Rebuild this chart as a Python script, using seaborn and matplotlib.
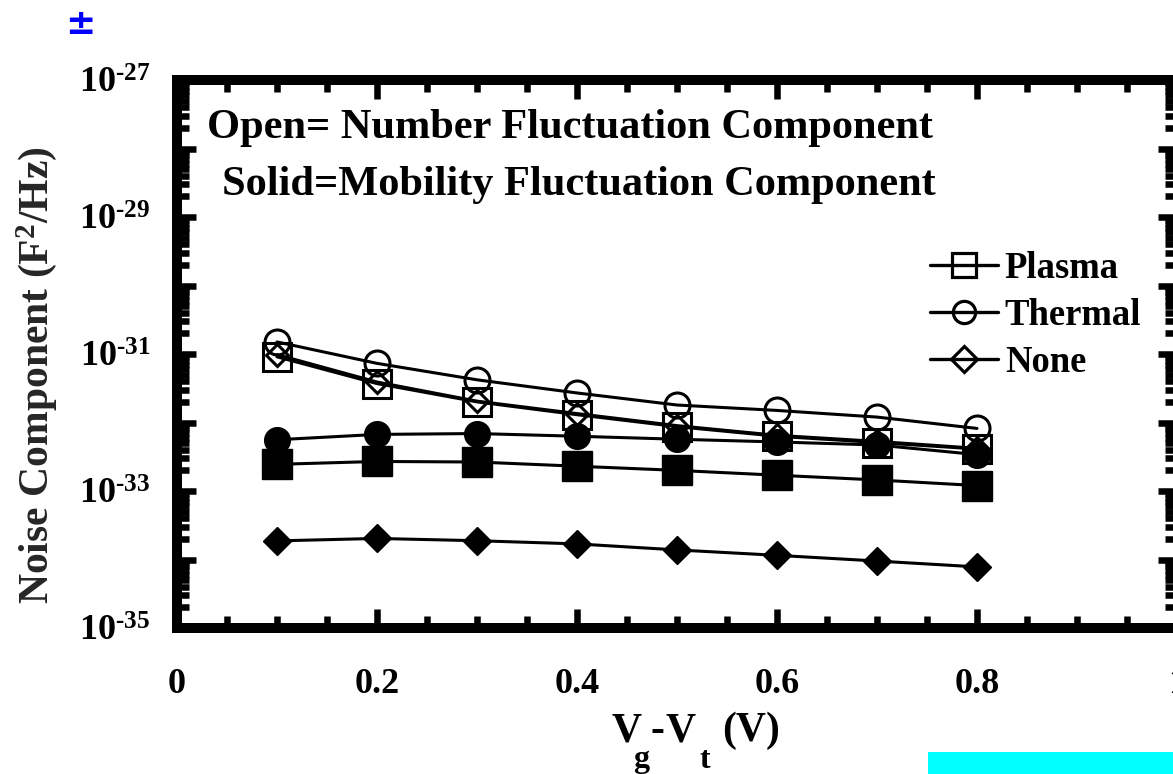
import numpy as np
import pandas as pd
import matplotlib
matplotlib.use("Agg")
import matplotlib.pyplot as plt
import seaborn as sns
from matplotlib.lines import Line2D
from matplotlib.patches import Rectangle
from matplotlib.ticker import FixedLocator, FuncFormatter, LogLocator, MultipleLocator

# Gate overdrive (V)
vg = [0.1, 0.2, 0.3, 0.4, 0.5, 0.6, 0.7, 0.8]

# Number-fluctuation component (open markers), F^2/Hz
plasma_number = [9.1e-32, 3.7e-32, 2.0e-32, 1.3e-32, 8.7e-33, 6.3e-33, 5.1e-33, 4.1e-33]
thermal_number = [1.5e-31, 7.3e-32, 4.2e-32, 2.7e-32, 1.8e-32, 1.5e-32, 1.2e-32, 8.2e-33]
none_number = [9.8e-32, 3.9e-32, 2.05e-32, 1.35e-32, 9.0e-33, 6.5e-33, 5.3e-33, 4.2e-33]

# Mobility-fluctuation component (solid markers), F^2/Hz
plasma_mobility = [2.45e-33, 2.7e-33, 2.65e-33, 2.3e-33, 2.0e-33, 1.7e-33, 1.45e-33, 1.2e-33]
thermal_mobility = [5.6e-33, 6.7e-33, 6.9e-33, 6.3e-33, 5.7e-33, 5.2e-33, 4.7e-33, 3.4e-33]
none_mobility = [1.87e-34, 2.03e-34, 1.88e-34, 1.69e-34, 1.38e-34, 1.15e-34, 9.5e-35, 7.8e-35]

treatments = ["Plasma", "Thermal", "None"]
x_ticks = [0, 0.2, 0.4, 0.6, 0.8, 1.0]
x_tick_labels = ["0", "0.2", "0.4", "0.6", "0.8", "1"]
y_decades = list(range(-35, -26))
y_labelled = [-35, -33, -31, -29, -27]

sns.set_theme(style="white")
plt.rcParams.update({
    "font.family": ["Liberation Serif", "DejaVu Sans"],
    "font.weight": "bold",
    "mathtext.fontset": "custom",
    "mathtext.rm": "Liberation Serif:bold",
    "mathtext.bf": "Liberation Serif:bold",
    "mathtext.it": "Liberation Serif:bold:italic",
    "mathtext.default": "bf",
    "axes.linewidth": 7.2,
    "axes.edgecolor": "black",
    "text.color": "black",
    "xtick.color": "black",
    "ytick.color": "black",
})

W, H = 1173, 774
fig = plt.figure(figsize=(W / 100, H / 100), dpi=100)
fig.patch.set_facecolor("white")


def fx(px):
    return px / W


def fy(py):
    return 1 - py / H


# axes box in pixels: left 177, right 1177, top 80, bottom 628
ax = fig.add_axes([fx(177), fy(628), 1000 / W, 548 / H])
ax.set_facecolor("white")
ax.set_yscale("log")

markers = {"Plasma": "s", "Thermal": "o", "None": "D"}
open_sizes = {"Plasma": 20, "Thermal": 18, "None": 11.5}
solid_sizes = {"Plasma": 21, "Thermal": 18.5, "None": 14.5}

number_data = {"Plasma": plasma_number, "Thermal": thermal_number, "None": none_number}
mobility_data = {"Plasma": plasma_mobility, "Thermal": thermal_mobility, "None": none_mobility}

for name in treatments:
    df = pd.DataFrame({"vg": vg, "noise": mobility_data[name]})
    sns.lineplot(data=df, x="vg", y="noise", ax=ax, color="black", lw=2.2,
                 marker=markers[name], markersize=solid_sizes[name],
                 markerfacecolor="black", markeredgecolor="black",
                 markeredgewidth=1.0, legend=False, zorder=3)

for name in ["Thermal", "Plasma", "None"]:
    df = pd.DataFrame({"vg": vg, "noise": number_data[name]})
    sns.lineplot(data=df, x="vg", y="noise", ax=ax, color="black", lw=2.2,
                 marker=markers[name], markersize=open_sizes[name],
                 markerfacecolor="none", markeredgecolor="black",
                 markeredgewidth=2.2, legend=False, zorder=4)

ax.set_xlim(0, 1)
ax.set_ylim(1e-35, 1e-27)

# x axis ticks
ax.xaxis.set_major_locator(FixedLocator(x_ticks))
ax.xaxis.set_minor_locator(MultipleLocator(0.05))
ax.set_xticklabels(x_tick_labels)

# y axis ticks: every decade, labels on odd exponents
ax.yaxis.set_major_locator(FixedLocator([10.0 ** e for e in y_decades]))
ax.yaxis.set_minor_locator(LogLocator(base=10, subs=np.arange(2, 10), numticks=100))


def decade_label(v, pos):
    e = int(round(np.log10(v)))
    if e not in y_labelled:
        return ""
    return "$\\mathbf{10^{\u2010%d}}$" % abs(e)


ax.yaxis.set_major_formatter(FuncFormatter(decade_label))

ax.tick_params(which="both", direction="in", top=True, right=True,
               bottom=True, left=True, width=4.7, color="black")
ax.tick_params(which="major", length=13.5)
ax.tick_params(which="minor", length=8.5)
ax.tick_params(axis="x", which="major", pad=29, labelsize=26)
ax.tick_params(axis="y", which="major", pad=19, labelsize=26)
for lab in ax.get_xticklabels() + ax.get_yticklabels():
    lab.set_fontweight("bold")

for sp in ax.spines.values():
    sp.set_visible(True)
    sp.set_linewidth(7.2)
    sp.set_color("black")

# y label
ax.set_ylabel(r"Noise Component (F$^{\mathbf{2}}$/Hz)", fontsize=30, fontweight="bold")
ax.yaxis.set_label_coords(-0.118, 0.462)

# x label: V_g - V_t (V) with deeply lowered subscripts, built from pieces
ax.set_xlabel("")
xl_main = dict(fontsize=30, fontweight="bold", ha="left", va="baseline")
xl_sub = dict(fontsize=23, fontweight="bold", ha="left", va="baseline")
fig.text(fx(612), fy(741), "V", **xl_main)
fig.text(fx(633), fy(767), "g", **xl_sub)
fig.text(fx(650), fy(741), "-", **xl_main)
fig.text(fx(665), fy(741), "V", **xl_main)
fig.text(fx(699), fy(768), "t", **xl_sub)
fig.text(fx(722), fy(741), "(V)", **xl_main)

ax.text(0.030, 0.894, "Open= Number Fluctuation Component", transform=ax.transAxes,
        fontsize=30.5, fontweight="bold", ha="left", va="baseline")
ax.text(0.045, 0.790, "Solid=Mobility Fluctuation Component", transform=ax.transAxes,
        fontsize=30.5, fontweight="bold", ha="left", va="baseline")

legend_sizes = {"Plasma": 17, "Thermal": 16, "None": 13}
handles = [Line2D([], [], color="black", lw=2.4, marker=markers[n],
                  markersize=legend_sizes[n], markerfacecolor="none",
                  markeredgecolor="black", markeredgewidth=2.3)
           for n in treatments]
leg = ax.legend(handles, treatments, loc="upper left",
                bbox_to_anchor=(0.753, 0.688), frameon=False,
                prop={"family": "Liberation Serif", "weight": "bold", "size": 26.4},
                handlelength=1.85, handletextpad=0.19, labelspacing=0.33,
                borderpad=0, borderaxespad=0)

fig.text(fx(80), fy(24), "\u00b1", color="#0000ff", fontsize=26,
         fontweight="bold", family="DejaVu Sans", ha="center", va="center")
fig.patches.append(Rectangle((fx(928), 0), (W - 928) / W, 22 / H,
                             transform=fig.transFigure, facecolor="#00ffff",
                             edgecolor="none"))

fig.savefig("out.png", dpi=100)
